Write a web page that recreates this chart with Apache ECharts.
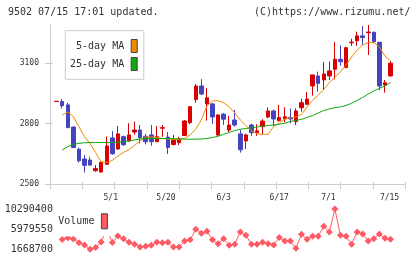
<!DOCTYPE html>
<html><head><meta charset="utf-8">
<script src="https://cdn.jsdelivr.net/npm/echarts@6/dist/echarts.min.js"></script>
<style>html,body{margin:0;padding:0;background:#fff}#c{width:420px;height:259px}</style>
</head><body><div id="c"></div>
<script>
const dates = ['4/17','4/18','4/21','4/22','4/23','4/24','4/25','4/28','4/30','5/1','5/2','5/7','5/8','5/9','5/12','5/13','5/14','5/15','5/16','5/19','5/20','5/21','5/22','5/23','5/26','5/27','5/28','5/29','5/30','6/2','6/3','6/4','6/5','6/6','6/9','6/10','6/11','6/12','6/13','6/16','6/17','6/18','6/19','6/20','6/23','6/24','6/25','6/26','6/27','6/30','7/1','7/2','7/3','7/4','7/7','7/8','7/9','7/10','7/11','7/14','7/15'];
const open = [2910,2910,2893,2783,2673,2624,2619,2566,2560,2598,2729,2674,2735,2714,2758,2768,2737,2744,2710,2777,2733,2696,2706,2741,2805,2920,2987,2898,2898,2743,2847,2768,2818,2749,2714,2793,2756,2785,2833,2863,2815,2823,2831,2810,2879,2896,2987,3037,3017,3037,3070,3120,3079,3202,3212,3236,3252,3254,3204,2992,3037];
const close = [2911,2889,2780,2681,2615,2593,2594,2577,2608,2689,2650,2749,2695,2744,2768,2730,2710,2710,2735,2780,2681,2718,2724,2813,2884,2987,2947,2928,2833,2843,2822,2793,2793,2670,2744,2755,2764,2813,2863,2823,2830,2834,2823,2863,2904,2922,3042,3000,3047,3062,3120,3108,3177,3205,3236,3227,3255,3207,2987,3003,3100];
const high = [2912,2922,2903,2785,2680,2644,2636,2594,2610,2736,2763,2788,2740,2802,2810,2793,2749,2793,2788,2793,2758,2744,2735,2818,2885,2997,3021,2977,2903,2846,2853,2838,2868,2768,2750,2799,2797,2822,2881,2869,2893,2881,2876,2876,2924,2957,3042,3058,3106,3108,3206,3189,3182,3222,3257,3285,3290,3257,3207,3017,3111];
const low = [2909,2875,2778,2679,2606,2557,2590,2561,2556,2596,2645,2670,2690,2709,2744,2702,2697,2690,2710,2734,2649,2692,2694,2740,2798,2904,2942,2815,2798,2740,2793,2758,2785,2656,2674,2739,2739,2748,2827,2788,2810,2807,2802,2793,2859,2893,2939,2959,2967,3017,3020,3088,3075,3186,3186,3191,3141,3199,2967,2954,3033];
const ma5 = [null,2843,2858,2835,2785,2735,2701,2656,2610,2607,2617,2639,2657,2671,2692,2714,2734,2734,2731,2726,2724,2721,2721,2727,2744,2773,2818,2888,2913,2914,2904,2883,2853,2818,2791,2766,2749,2747,2747,2786,2802,2823,2828,2833,2845,2883,2915,2942,2970,3004,3029,3057,3091,3131,3166,3191,3203,3204,3181,3136,3111];
const ma25 = [null,2669,2686,2697,2702,2705,2706,2706,2706,2706,2706,2707,2710,2714,2719,2724,2726,2726,2726,2726,2726,2725,2724,2723,2722,2723,2724,2726,2731,2737,2747,2756,2766,2772,2776,2779,2783,2787,2791,2793,2797,2802,2811,2816,2821,2831,2840,2853,2865,2873,2879,2883,2890,2901,2915,2930,2947,2962,2975,2987,3004];
const volume = [null,3744000,4150000,3870000,3080000,2590000,1668700,2050000,3230000,6010000,3120000,4510000,3920000,3190000,2760000,2160000,2330000,2520000,3170000,3080000,3170000,2160000,2160000,3440000,3720000,5950000,5090000,5520000,3720000,2870000,3920000,2520000,2760000,5370000,4660000,2760000,2760000,3170000,2870000,2590000,4190000,3440000,3440000,1880000,4900000,3830000,4470000,4470000,6590000,5370000,10290400,4660000,4450000,2760000,5370000,4940000,3440000,3940000,4940000,4020000,3830000];
const priceTicks = [2500, 2800, 3100];
const volumeTicks = [1668700, 5979550, 10290400];
const dateTicks = ['5/1','5/20','6/3','6/17','7/1','7/15'];
const headerLeft = '9502 07/15 17:01 updated.';
const headerRight = '(C)https://www.rizumu.net/';

const MONO = 'DejaVu Sans Mono';
const TXT = '#333';
const AX = '#cccccc';
const UP = '#d80000', DOWN = '#4444c0';
const C5 = '#f08a00', C25 = '#10a810', CV = '#ff5a64';
const yMin = 2500, yMax = Math.max(...high);
const labelShift = {'5/1': 4, '5/20': -2, '7/1': -6.5, '7/15': -1};
const rich = {};
dateTicks.forEach((d, i) => {
  const s = labelShift[d] || 0;
  rich['t' + i] = {fontFamily: MONO, fontSize: 8, color: TXT,
    padding: [0, s < 0 ? -2 * s : 0, 0, s > 0 ? 2 * s : 0]};
});
const plain = v => String(v);

const candles = dates.map((d, i) => [open[i], close[i], low[i], high[i]]);
const chart = echarts.init(document.getElementById('c'), null, {renderer: 'canvas'});
chart.setOption({
  animation: false,
  backgroundColor: '#fff',
  title: [
    {text: headerLeft, left: 8, top: 7, padding: 0,
     textStyle: {fontFamily: MONO, fontSize: 10, fontWeight: 'normal', color: TXT}},
    {text: headerRight, right: 9.5, top: 7, padding: 0,
     textStyle: {fontFamily: MONO, fontSize: 10, fontWeight: 'normal', color: TXT}}
  ],
  legend: [
    {data: ['5-day MA', '25-day MA'], orient: 'vertical', left: 65.3, top: 30.7,
     padding: [8.3, 6.1, 8.3, 4.7], itemGap: 4, itemWidth: 6, itemHeight: 13,
     align: 'right', icon: 'rect', selectedMode: false, z: 10,
     backgroundColor: '#fff', borderColor: AX, borderWidth: 1,
     formatter: n => (n.length < 9 ? ' ' + n : n),
     itemStyle: {borderColor: '#444', borderWidth: 1},
     textStyle: {fontFamily: MONO, fontSize: 10, color: TXT, padding: [0, 2, 0, 0]}},
    {data: ['Volume'], orient: 'horizontal', left: 56.3, top: 211.3,
     padding: [2, 2, 7, 2], itemWidth: 6, itemHeight: 15,
     align: 'right', icon: 'rect', selectedMode: false, z: 10,
     backgroundColor: '#fff', borderWidth: 0,
     itemStyle: {borderColor: '#444', borderWidth: 1},
     textStyle: {fontFamily: MONO, fontSize: 10, color: TXT, padding: [0, 2, 0, 0]}}
  ],
  grid: [
    {left: 53.9, right: 26.7, top: 25, bottom: 75},
    {left: 50, right: 14.7, top: 25, bottom: 75},
    {left: 53.9, right: 26.7, top: 209, bottom: 9.7}
  ],
  xAxis: [
    {gridIndex: 0, type: 'category', data: dates, boundaryGap: true,
     axisLine: {show: false}, axisTick: {show: false}, splitLine: {show: false},
     axisLabel: {interval: (i, v) => dateTicks.indexOf(v) >= 0, margin: 10,
       fontFamily: MONO, fontSize: 8, color: TXT,
       formatter: v => '{t' + dateTicks.indexOf(v) + '|' + v + '}', rich: rich}},
    {gridIndex: 1, type: 'value', min: 0, max: 11, interval: 1, position: 'bottom',
     axisLine: {show: true, lineStyle: {color: AX, width: 1}},
     axisTick: {show: true, length: 5, lineStyle: {color: AX}},
     axisLabel: {show: false}, splitLine: {show: false}},
    {gridIndex: 1, type: 'value', min: 0, max: 11, interval: 1, position: 'bottom',
     axisLine: {show: false},
     axisTick: {show: true, inside: true, length: 2, lineStyle: {color: AX}},
     axisLabel: {show: false}, splitLine: {show: false}},
    {gridIndex: 2, type: 'category', data: dates, boundaryGap: true, show: false}
  ],
  yAxis: [
    {gridIndex: 0, type: 'value', min: yMin, max: yMax, show: false, splitLine: {show: false}},
    {gridIndex: 1, type: 'value', min: yMin, max: yMax, position: 'left',
     axisLine: {show: true, lineStyle: {color: AX, width: 1}},
     axisTick: {show: true, length: 5, customValues: priceTicks, lineStyle: {color: AX}},
     axisLabel: {customValues: priceTicks, formatter: plain, margin: 11, fontFamily: MONO, fontSize: 8, color: TXT},
     splitLine: {show: false}},
    {gridIndex: 1, type: 'value', min: yMin, max: yMax, position: 'left',
     axisLine: {show: false},
     axisTick: {show: true, inside: true, length: 3, customValues: priceTicks, lineStyle: {color: AX}},
     axisLabel: {show: false}, splitLine: {show: false}},
    {gridIndex: 2, type: 'value', min: 'dataMin', max: 'dataMax',
     axisLine: {show: false}, axisTick: {show: false}, splitLine: {show: false},
     axisLabel: {customValues: volumeTicks, formatter: plain, margin: 1, fontFamily: MONO, fontSize: 10, color: TXT}}
  ],
  series: [
    {type: 'candlestick', name: 'price', xAxisIndex: 0, yAxisIndex: 0, data: candles, barWidth: 4,
     itemStyle: {color: UP, color0: DOWN, borderColor: UP, borderColor0: DOWN, borderWidth: 1}},
    {type: 'line', name: '5-day MA', xAxisIndex: 0, yAxisIndex: 0, data: ma5, showSymbol: false,
     color: C5, lineStyle: {color: C5, width: 1}},
    {type: 'line', name: '25-day MA', xAxisIndex: 0, yAxisIndex: 0, data: ma25, showSymbol: false,
     color: C25, lineStyle: {color: C25, width: 1}},
    {type: 'line', name: 'Volume', xAxisIndex: 3, yAxisIndex: 3, data: volume,
     symbol: 'diamond', symbolSize: 7, showAllSymbol: true, color: CV,
     itemStyle: {color: CV}, lineStyle: {color: CV, width: 1}}
  ]
});
</script></body></html>
